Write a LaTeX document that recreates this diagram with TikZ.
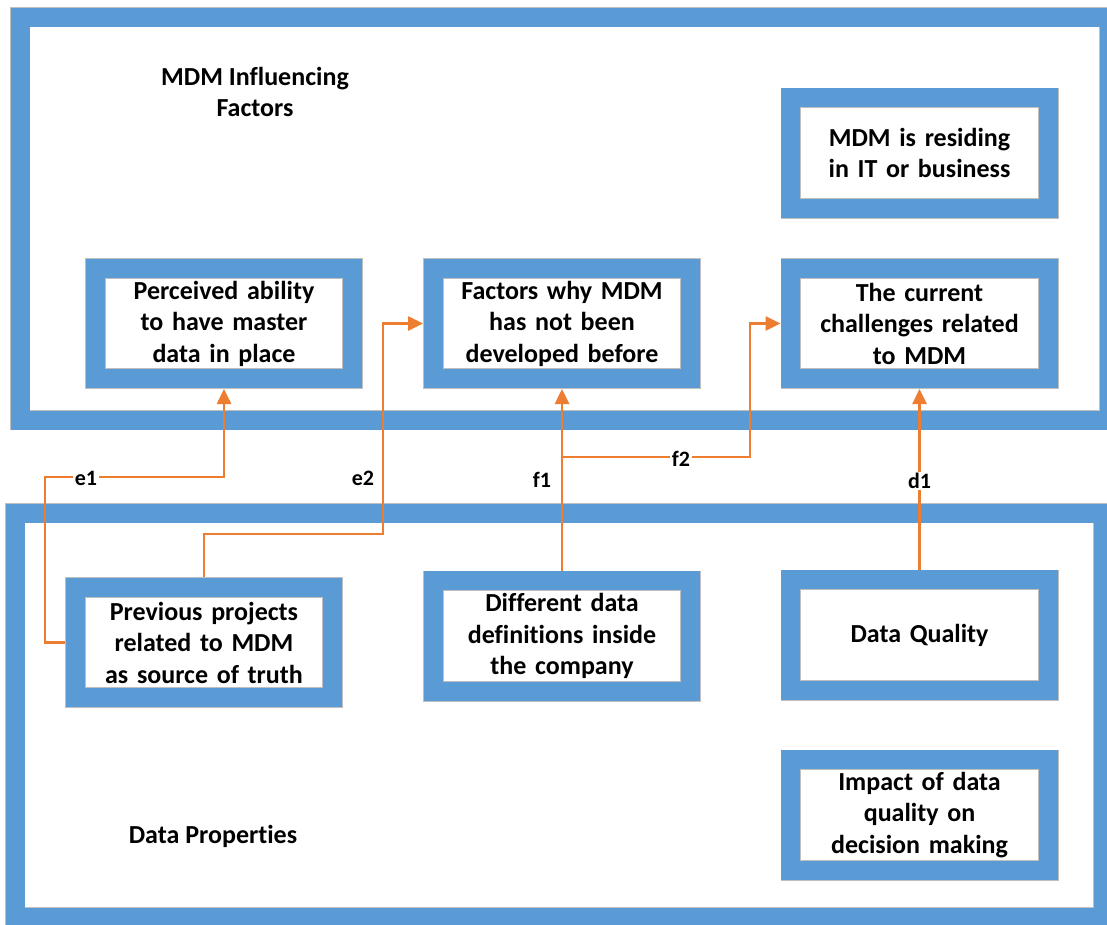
\documentclass[tikz,border=0pt]{standalone}
\usepackage{fontspec}
\setmainfont{Carlito}[Ligatures=NoCommon]
\usetikzlibrary{arrows.meta}
\definecolor{frameblue}{HTML}{5B9BD5}
\definecolor{linkorange}{HTML}{ED7D31}
\definecolor{rimgray}{HTML}{BFBFBF}
\tikzset{
  x=1pt, y=-1pt,
  band/.style={draw=rimgray, line width=0.8pt, double=frameblue, double distance=19pt},
  factorbox/.style={band, fill=white, rectangle, inner sep=0pt, outer sep=10.3pt,
    minimum width=257.4pt, minimum height=110.4pt, text width=256pt, align=center,
    font=\bfseries\fontsize{26}{31.5}\selectfont},
  areatitle/.style={align=center, font=\bfseries\fontsize{26}{31.5}\selectfont},
  link/.style={draw=linkorange, line width=2.6pt},
  linkarrow/.style={link, -{Triangle[length=15pt, width=14pt]}},
  linklabel/.style={font=\bfseries\fontsize{22}{26}\selectfont, inner sep=1.5pt},
}
\begin{document}
\begin{tikzpicture}
\useasboundingbox (0,0) rectangle (1107,924);
\clip (0,0) rectangle (1107,924);
\fill[white] (0,0) rectangle (1107,924);

% the two framed areas
\draw[band, fill=white] (20,17) rectangle (1109,420);
\draw[band, fill=white] (15,513) rectangle (1103,917);
\node[areatitle] (ttop) at (255,92) {MDM Influencing\\Factors};
\node[areatitle] (tbot) at (213,836) {Data Properties};

% factor boxes of the upper area
\node[factorbox] (pa) at (224,323.5) {Perceived ability\\to have master\\data in place};
\node[factorbox] (fw) at (562,323.5) {Factors why MDM\\has not been\\developed before};
\node[factorbox] (cc) at (919.5,323.5) {The current\\challenges related\\to MDM};
\node[factorbox] (mr) at (919.5,153) {MDM is residing\\in IT or business};

% factor boxes of the lower area
\node[factorbox] (pp) at (204,642.5) {Previous projects\\related to MDM\\as source of truth};
\node[factorbox] (dd) at (562,636) {Different data\\definitions inside\\the company};
\node[factorbox] (dq) at (919.5,635) {Data Quality};
\node[factorbox] (im) at (919.5,815) {Impact of data\\quality on\\decision making};

% bend points of the links
\coordinate (e1a) at (45,642.5);
\coordinate (e1b) at (45,477);
\coordinate (e2a) at (383,534);
\coordinate (fj) at (562,457);
\coordinate (f2a) at (750,457);

% links
\draw[linkarrow] (pp.west) -- (e1a) -- (e1b) -| (pa.south);
\draw[linkarrow] (pp.north) |- (e2a) |- (fw.west);
\draw[linkarrow] (dd.north) -- (fw.south);
\draw[linkarrow] (fj) -- (f2a) |- (cc.west);
\draw[linkarrow] (dq.north) -- (cc.south);

% link labels
\node[linklabel, fill=white] (le1) at (86,478) {e1};
\node[linklabel] (le2) at (363,478) {e2};
\node[linklabel] (lf1) at (542,480) {f1};
\node[linklabel, fill=white] (lf2) at (681,459) {f2};
\node[linklabel, fill=white] (ld1) at (919.5,481) {d1};
\end{tikzpicture}
\end{document}
